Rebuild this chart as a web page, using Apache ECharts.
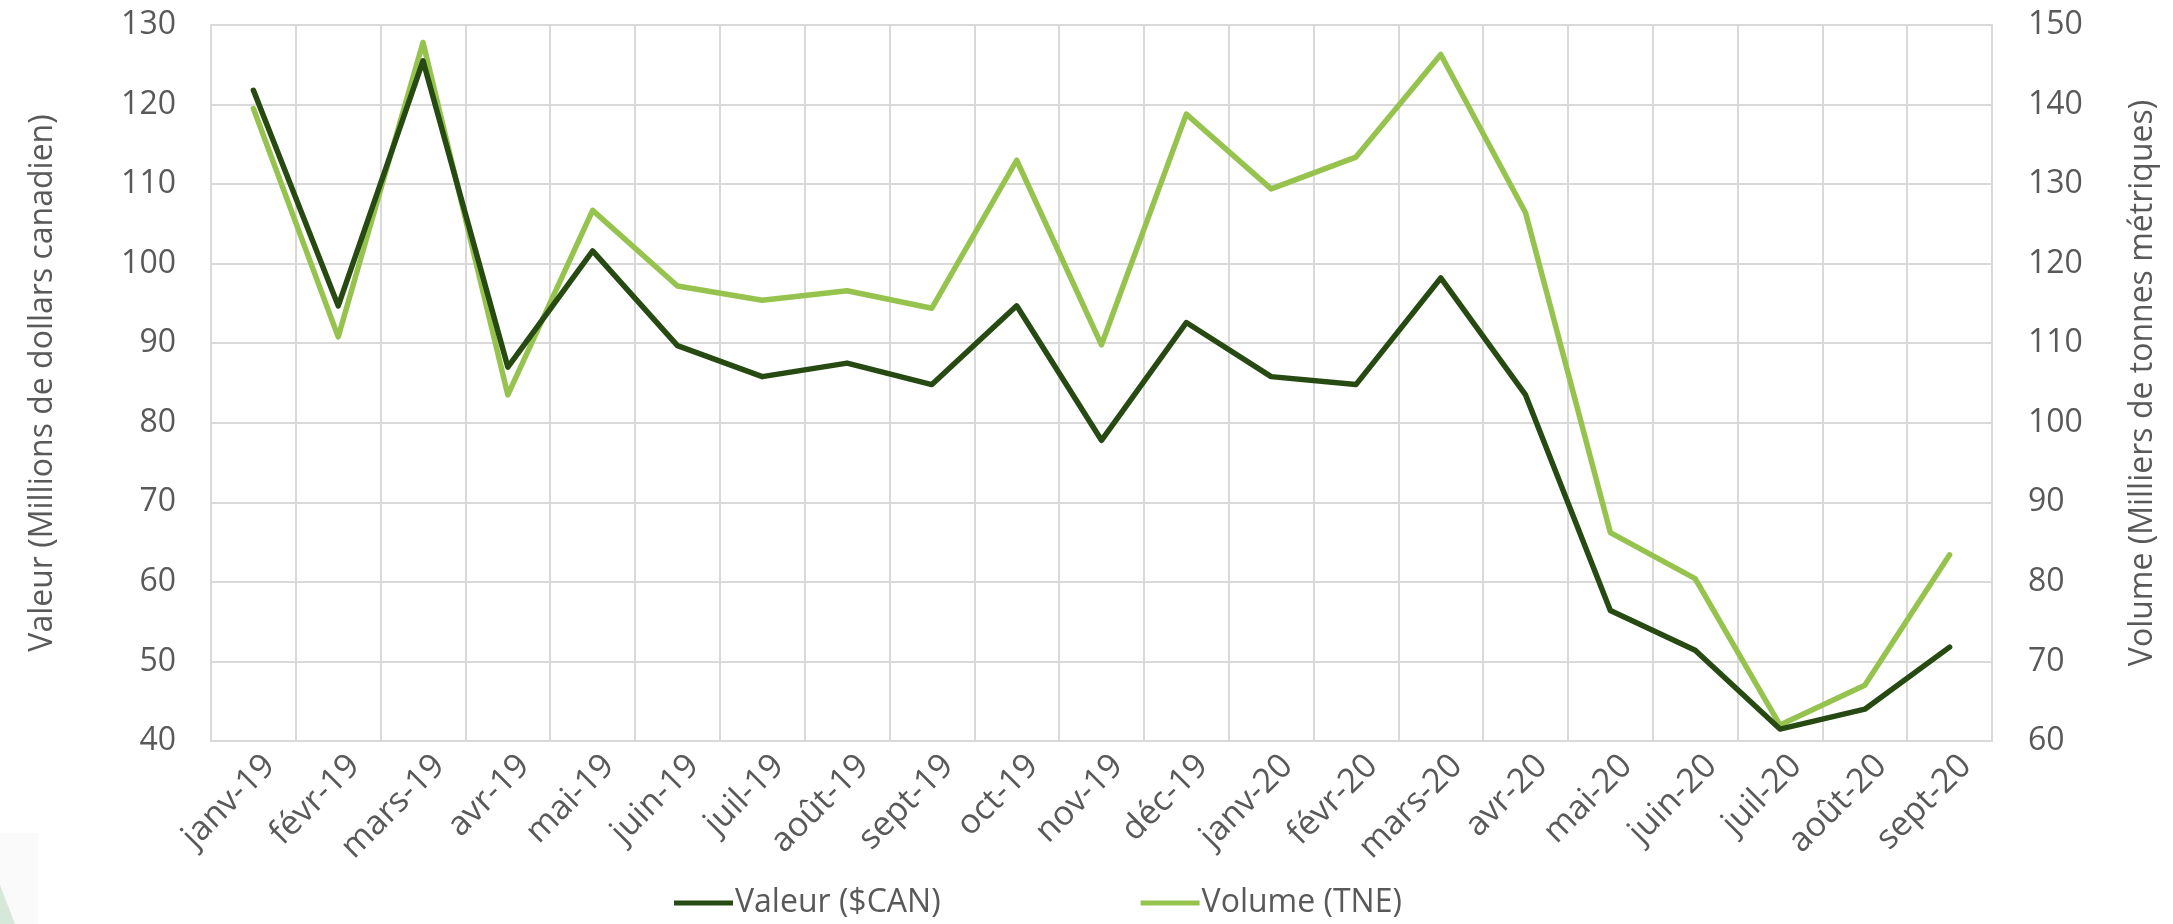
<!DOCTYPE html>
<html>
<head>
<meta charset="utf-8">
<script src="https://cdn.jsdelivr.net/npm/echarts@6/dist/echarts.min.js"></script>
<style>
html,body{margin:0;padding:0;background:#fff;}
#c{width:2173px;height:924px;}
</style>
</head>
<body>
<div id="c"></div>
<script>
const categories = ['janv-19','févr-19','mars-19','avr-19','mai-19','juin-19','juil-19','août-19','sept-19','oct-19','nov-19','déc-19','janv-20','févr-20','mars-20','avr-20','mai-20','juin-20','juil-20','août-20','sept-20'];
const valeur = [121.8,94.7,125.5,87.0,101.6,89.7,85.8,87.5,84.8,94.7,77.8,92.6,85.8,84.8,98.2,83.5,56.4,51.4,41.5,44.0,51.8];
const volume = [139.5,110.8,147.8,103.5,126.7,117.2,115.4,116.6,114.4,133.0,109.8,138.8,129.4,133.4,146.3,126.4,86.2,80.4,62.0,67.0,83.4];
const leftTicks = {min:40, max:130, interval:10};
const rightTicks = {min:60, max:150, interval:10};
const seriesNames = ['Valeur ($CAN)','Volume (TNE)'];
const axisNames = ['Valeur (Millions de dollars canadien)','Volume (Milliers de tonnes métriques)'];

const txt = '#595959';
const font = '"Open Sans", "DejaVu Sans", sans-serif';
const chart = echarts.init(document.getElementById('c'));
chart.setOption({
  animation: false,
  backgroundColor: '#ffffff',
  textStyle: {fontFamily: font},
  grid: {left: 211, right: 181, top: 25, bottom: 183, containLabel: false},
  legend: {
    left: 669, top: 882,
    itemWidth: 59, itemHeight: 5, itemGap: 200,
    icon: 'rect',
    textStyle: {color: txt, fontSize: 32, fontFamily: font, padding: [0,0,0,-3]},
    data: seriesNames
  },
  xAxis: {
    type: 'category',
    data: categories,
    boundaryGap: true,
    axisLine: {lineStyle: {color: '#d9d9d9', width: 2}},
    axisTick: {show: false},
    splitLine: {show: true, lineStyle: {color: '#d9d9d9', width: 2}},
    axisLabel: {rotate: 45, interval: 0, color: txt, fontSize: 34, margin: 36, fontFamily: font, padding: [0, -23, 0, 0]}
  },
  yAxis: [
    {
      type: 'value', position: 'left',
      min: leftTicks.min, max: leftTicks.max, interval: leftTicks.interval,
      name: axisNames[0], nameLocation: 'middle', nameRotate: 90, nameGap: 152,
      nameTextStyle: {color: txt, fontSize: 32, fontFamily: font},
      axisLine: {show: true, lineStyle: {color: '#d9d9d9', width: 2}},
      axisTick: {show: false},
      splitLine: {show: true, lineStyle: {color: '#d9d9d9', width: 2}},
      axisLabel: {color: txt, fontSize: 32, margin: 35, fontFamily: font}
    },
    {
      type: 'value', position: 'right',
      min: rightTicks.min, max: rightTicks.max, interval: rightTicks.interval,
      name: axisNames[1], nameLocation: 'middle', nameRotate: 90, nameGap: 135,
      nameTextStyle: {color: txt, fontSize: 32, fontFamily: font},
      axisLine: {show: true, lineStyle: {color: '#d9d9d9', width: 2}},
      axisTick: {show: false},
      splitLine: {show: false},
      axisLabel: {color: txt, fontSize: 32, margin: 36, fontFamily: font}
    }
  ],
  series: [
    {
      name: seriesNames[0], type: 'line', yAxisIndex: 0, data: valeur,
      symbol: 'none', color: '#264a12',
      lineStyle: {width: 5.5, color: '#264a12', cap: 'round', join: 'round'},
      z: 3
    },
    {
      name: seriesNames[1], type: 'line', yAxisIndex: 1, data: volume,
      symbol: 'none', color: '#95c34e',
      lineStyle: {width: 5.5, color: '#95c34e', cap: 'round', join: 'round'},
      z: 2
    }
  ],
  graphic: [
    {type: 'rect', left: 0, top: 833, shape: {width: 38, height: 91}, style: {fill: '#fafafa'}, silent: true},
    {type: 'polygon', shape: {points: [[0,885],[15,924],[0,924]]}, style: {fill: '#d6e8da'}, silent: true}
  ]
});
</script>
</body>
</html>
